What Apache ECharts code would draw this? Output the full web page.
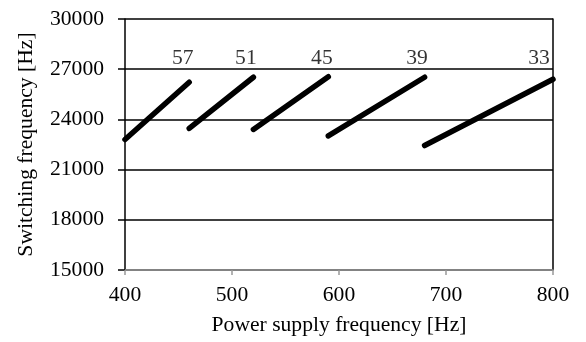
<!DOCTYPE html>
<html>
<head>
<meta charset="utf-8">
<script src="https://cdn.jsdelivr.net/npm/echarts@6/dist/echarts.min.js"></script>
<style>
  html, body { margin: 0; padding: 0; background: #fff; }
  #chart { width: 586px; height: 342px; }
</style>
</head>
<body>
<div id="chart"></div>
<script>
// pulse numbers and the segment ends
const pulses = ['57', '51', '45', '39', '33'];
const segStartX = [400, 460, 520, 590, 680];
const segStartY = [22800, 23460, 23400, 23010, 22440];
const segEndX = [460, 520, 590, 680, 800];
const segEndY = [26220, 26520, 26550, 26520, 26400];
// where the pulse labels sit
const labelX = [454, 513, 584, 673, 787];
const labelY = [27650, 27650, 27650, 27650, 27650];

const font = '"Liberation Serif", "Times New Roman", serif';
const fs = 21.6;

let chart = echarts.init(document.getElementById('chart'));

let series = pulses.map((p, i) => ({
  name: p,
  type: 'line',
  showSymbol: false,
  data: [[segStartX[i], segStartY[i]], [segEndX[i], segEndY[i]]],
  lineStyle: { color: '#000', width: 5.5, cap: 'round' },
  silent: true
}));

series.push({
  type: 'scatter',
  symbolSize: 0,
  silent: true,
  data: pulses.map((p, i) => [labelX[i], labelY[i], p]),
  label: {
    show: true,
    position: 'inside',
    formatter: d => d.value[2],
    color: '#000',
    fontFamily: font,
    fontSize: fs
  }
});

let option = {
  animation: false,
  grid: {
    left: 125,
    right: 33,
    top: 19,
    bottom: 72,
    outerBoundsMode: 'none'
  },
  xAxis: {
    type: 'value',
    min: 400,
    max: 800,
    interval: 100,
    name: 'Power supply frequency [Hz]',
    nameLocation: 'middle',
    nameGap: 44,
    nameTextStyle: { color: '#000', fontFamily: font, fontSize: fs },
    axisLine: { show: true, lineStyle: { color: '#999', width: 1.5 } },
    axisTick: { show: true, length: 5, lineStyle: { color: '#999', width: 1.5 } },
    splitLine: { show: false },
    axisLabel: { color: '#000', fontFamily: font, fontSize: fs, margin: 14 }
  },
  yAxis: [{
    type: 'value',
    min: 15000,
    max: 30000,
    interval: 3000,
    name: 'Switching frequency [Hz]',
    nameLocation: 'middle',
    nameGap: 88,
    nameTextStyle: { color: '#000', fontFamily: font, fontSize: fs },
    axisLine: { show: true, lineStyle: { color: '#000', width: 1.5 } },
    axisTick: { show: true, length: 7, lineStyle: { color: '#000', width: 1.5 } },
    splitLine: { show: true, lineStyle: { color: '#000', width: 1.5 } },
    axisLabel: { color: '#000', fontFamily: font, fontSize: fs, margin: 21, formatter: v => String(v) }
  }, {
    // right-hand frame line only
    type: 'value',
    position: 'right',
    min: 15000,
    max: 30000,
    interval: 3000,
    axisLine: { show: true, lineStyle: { color: '#000', width: 1.5 } },
    axisTick: { show: false },
    axisLabel: { show: false },
    splitLine: { show: false }
  }],
  series: series
};

chart.setOption(option);
</script>
</body>
</html>
